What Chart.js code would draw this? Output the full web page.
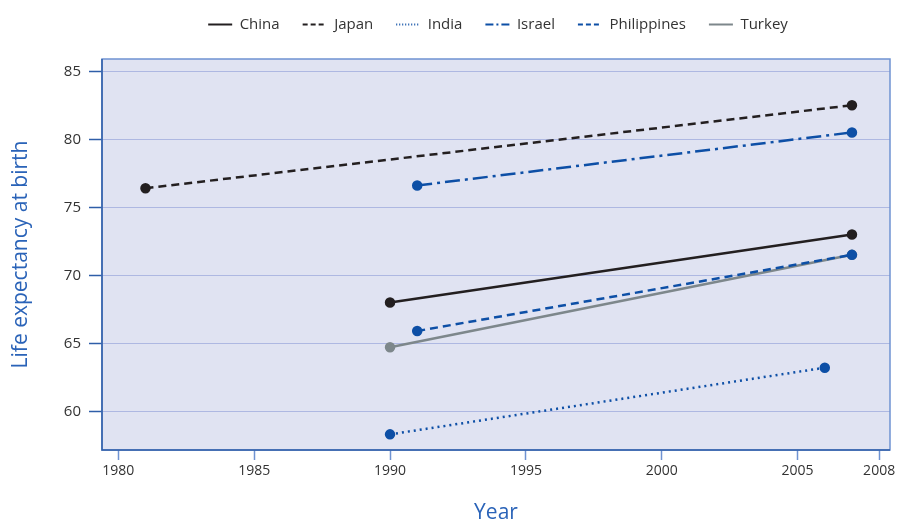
<!DOCTYPE html>
<html lang="en">
<head>
    <meta charset="UTF-8">
    <title>Life expectancy at birth</title>
    <script src="https://cdn.jsdelivr.net/npm/chart.js@4.4.1/dist/chart.umd.min.js"></script>
</head>
<style>
    body {
        margin: 0;
        background: #ffffff;
    }
    .grafica-box {
        width: 902px;
        height: 522px;
    }
</style>
<body>
    <div class="grafica-box">
        <canvas id="grafica" width="902" height="522"></canvas>
    </div>

    <script>
        // Datos
        const countries = ["China", "Japan", "India", "Israel", "Philippines", "Turkey"];
        const startYear = [1990, 1981, 1990, 1991, 1991, 1990];
        const endYear = [2007, 2007, 2006, 2007, 2007, 2007];
        const startLife = [68.0, 76.4, 58.3, 76.6, 65.9, 64.7];
        const endLife = [73.0, 82.5, 63.2, 80.5, 71.5, 71.5];

        const xTicks = [1980, 1985, 1990, 1995, 2000, 2005, 2008];
        const yTicks = [60, 65, 70, 75, 80, 85];

        // Estilos
        const colores = ["#231f20", "#231f20", "#0d4fa6", "#0d4fa6", "#0d4fa6", "#7d878b"];
        const guiones = [[], [8, 5], [2, 4], [15, 5, 3, 5], [8, 5], []];
        const guionesLeyenda = [[], [5, 3], [1, 2], [8, 3, 2, 3], [5, 3], []];

        const datasets = countries.map((nombre, i) => ({
            label: nombre,
            data: [
                { x: startYear[i], y: startLife[i] },
                { x: endYear[i], y: endLife[i] }
            ],
            borderColor: colores[i],
            backgroundColor: colores[i],
            pointBackgroundColor: colores[i],
            pointBorderColor: colores[i],
            borderDash: guiones[i],
            borderWidth: 2.5,
            pointRadius: 4,
            pointHoverRadius: 4,
            tension: 0
        }));

        const fondoPlot = {
            id: "fondoPlot",
            beforeInit(chart) {
                // más espacio debajo de la leyenda
                const fitOriginal = chart.legend.fit;
                chart.legend.fit = function () {
                    fitOriginal.bind(chart.legend)();
                    this.height += 17;
                };
            },
            afterLayout(chart) {
                // la leyenda va centrada sobre el área del gráfico
                chart.legend.left += 53;
                chart.legend.right += 53;
            },
            beforeDraw(chart) {
                const { ctx, chartArea: a } = chart;
                ctx.save();
                ctx.fillStyle = "#e0e3f2";
                ctx.fillRect(a.left, a.top, a.right - a.left, a.bottom - a.top);
                ctx.restore();
            },
            beforeDatasetsDraw(chart) {
                const { ctx, chartArea: a } = chart;
                ctx.save();
                ctx.strokeStyle = "#6f93d2";
                ctx.lineWidth = 1.5;
                ctx.strokeRect(a.left, a.top, a.right - a.left, a.bottom - a.top);
                ctx.strokeStyle = "#2f5ea8";
                ctx.beginPath();
                ctx.moveTo(a.left, a.top);
                ctx.lineTo(a.left, a.bottom);
                ctx.lineTo(a.right, a.bottom);
                ctx.stroke();
                ctx.restore();
            }
        };

        Chart.defaults.font.family = "'Open Sans', sans-serif";
        Chart.defaults.color = "#333333";

        new Chart(document.querySelector("#grafica"), {
            type: "line",
            data: { datasets },
            plugins: [fondoPlot],
            options: {
                responsive: false,
                animation: false,
                layout: { padding: { top: -6, right: 12, left: 0, bottom: 0 } },
                plugins: {
                    tooltip: { enabled: false },
                    legend: {
                        position: "top",
                        labels: {
                            usePointStyle: true,
                            pointStyle: "line",
                            pointStyleWidth: 24,
                            boxWidth: 24,
                            padding: 23,
                            color: "#333333",
                            font: { size: 15 },
                            generateLabels(chart) {
                                const items = Chart.defaults.plugins.legend.labels.generateLabels(chart);
                                items.forEach((it, i) => {
                                    it.lineDash = guionesLeyenda[i];
                                    it.lineWidth = 2;
                                    it.strokeStyle = colores[i];
                                });
                                return items;
                            }
                        }
                    }
                },
                scales: {
                    x: {
                        type: "linear",
                        min: 1979.4,
                        max: 2008.4,
                        afterBuildTicks(scale) {
                            scale.ticks = xTicks.map((v) => ({ value: v }));
                        },
                        afterFit(scale) {
                            scale.height = 72;
                        },
                        ticks: {
                            color: "#333333",
                            font: { size: 14 },
                            padding: 3,
                            callback: (v) => String(v)
                        },
                        grid: {
                            drawOnChartArea: false,
                            tickLength: 10,
                            tickColor: "#6f93d2",
                            tickWidth: 1.5
                        },
                        border: { display: false },
                        title: {
                            display: true,
                            text: "Year",
                            color: "#2a63b8",
                            font: { size: 21, lineHeight: 1.0 },
                            padding: { top: 8, bottom: -2 }
                        }
                    },
                    y: {
                        type: "linear",
                        min: 57.15,
                        max: 85.9,
                        afterBuildTicks(scale) {
                            scale.ticks = yTicks.map((v) => ({ value: v }));
                        },
                        afterFit(scale) {
                            scale.width = 102;
                        },
                        ticks: {
                            color: "#333333",
                            font: { size: 15 },
                            padding: 8
                        },
                        grid: {
                            color: "#aeb8e2",
                            lineWidth: 1,
                            tickLength: 13,
                            tickColor: "#2f5ea8",
                            tickWidth: 1.5
                        },
                        border: { display: false },
                        title: {
                            display: true,
                            text: "Life expectancy at birth",
                            color: "#2a63b8",
                            font: { size: 21 },
                            padding: { bottom: 6, top: 8 }
                        }
                    }
                }
            }
        });
    </script>
</body>
</html>
